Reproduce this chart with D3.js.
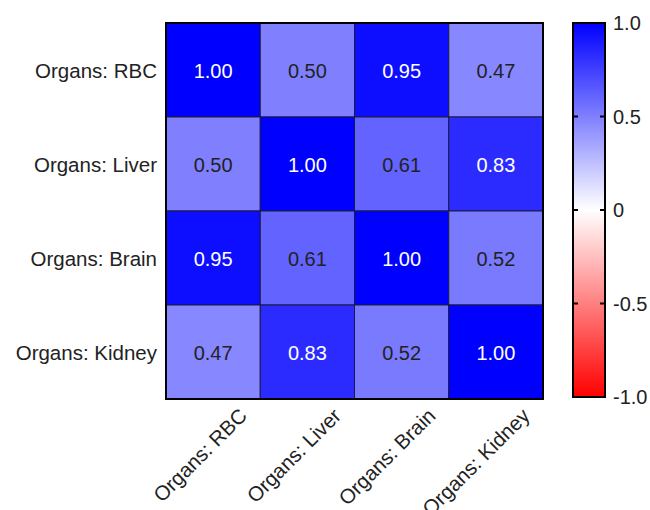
<!DOCTYPE html>
<html>
<head>
<meta charset="utf-8">
<script src="https://cdn.jsdelivr.net/npm/d3@7"></script>
<style>
  html, body { margin: 0; padding: 0; background: #fff; }
  svg { display: block; font-family: "Liberation Sans", Arial, sans-serif; }
</style>
</head>
<body>
<svg id="chart" width="650" height="510"></svg>
<script>
// Correlation matrix between organs
const organs = ["Organs: RBC", "Organs: Liver", "Organs: Brain", "Organs: Kidney"];
const rowRBC    = [1.00, 0.50, 0.95, 0.47];
const rowLiver  = [0.50, 1.00, 0.61, 0.83];
const rowBrain  = [0.95, 0.61, 1.00, 0.52];
const rowKidney = [0.47, 0.83, 0.52, 1.00];
const matrix = [rowRBC, rowLiver, rowBrain, rowKidney];
const legendTicks = [1.0, 0.5, 0, -0.5, -1.0];
const legendTickLabels = ["1.0", "0.5", "0", "-0.5", "-1.0"];

const svg = d3.select("#chart");

const plot = { left: 166, top: 23, right: 543, bottom: 399 };
const fontSize = 20;
const axisFontSize = 20.5;

const x = d3.scaleBand().domain(organs).range([plot.left, plot.right]);
const y = d3.scaleBand().domain(organs).range([plot.top, plot.bottom]);

const color = d3.scaleLinear()
  .domain([-1, 0, 1])
  .range(["#ff0000", "#ffffff", "#0000ff"]);

const cells = [];
matrix.forEach((row, i) => row.forEach((v, j) => cells.push({ r: organs[i], c: organs[j], v })));

// Heatmap cells
svg.append("g").selectAll("rect")
  .data(cells)
  .join("rect")
  .attr("x", d => x(d.c))
  .attr("y", d => y(d.r))
  .attr("width", x.bandwidth())
  .attr("height", y.bandwidth())
  .attr("fill", d => color(d.v))
  .attr("stroke", "#1a1a40")
  .attr("stroke-width", 1);

// Value labels
svg.append("g").selectAll("text")
  .data(cells)
  .join("text")
  .attr("x", d => x(d.c) + x.bandwidth() / 2)
  .attr("y", d => y(d.r) + y.bandwidth() / 2 + 1)
  .attr("dy", "0.35em")
  .attr("text-anchor", "middle")
  .attr("font-size", fontSize)
  .attr("fill", d => d.v >= 0.8 ? "#ffffff" : "#222222")
  .text(d => d.v.toFixed(2));

// Outer frame
svg.append("rect")
  .attr("x", plot.left).attr("y", plot.top)
  .attr("width", plot.right - plot.left)
  .attr("height", plot.bottom - plot.top)
  .attr("fill", "none")
  .attr("stroke", "#000")
  .attr("stroke-width", 2);

// Row labels
svg.append("g").selectAll("text")
  .data(organs)
  .join("text")
  .attr("x", plot.left - 9)
  .attr("y", d => y(d) + y.bandwidth() / 2 + 1)
  .attr("dy", "0.35em")
  .attr("text-anchor", "end")
  .attr("font-size", axisFontSize)
  .attr("fill", "#222")
  .text(d => d);

// Column labels, rotated
svg.append("g").selectAll("text")
  .data(organs)
  .join("text")
  .attr("transform", d => `translate(${x(d) + x.bandwidth() / 2 + 30},${plot.bottom + 13}) rotate(-45)`)
  .attr("dy", "0.35em")
  .attr("text-anchor", "end")
  .attr("font-size", axisFontSize)
  .attr("fill", "#222")
  .text(d => d);

// Colour legend
const legend = { left: 573, right: 605, top: 23, bottom: 397 };
const ly = d3.scaleLinear().domain([-1, 1]).range([legend.bottom, legend.top]);

const grad = svg.append("defs").append("linearGradient")
  .attr("id", "legendGrad")
  .attr("x1", 0).attr("y1", 1).attr("x2", 0).attr("y2", 0);
grad.selectAll("stop")
  .data([-1, 0, 1])
  .join("stop")
  .attr("offset", d => (d + 1) / 2)
  .attr("stop-color", d => color(d));

svg.append("rect")
  .attr("x", legend.left).attr("y", legend.top)
  .attr("width", legend.right - legend.left)
  .attr("height", legend.bottom - legend.top)
  .attr("fill", "url(#legendGrad)")
  .attr("stroke", "#000")
  .attr("stroke-width", 2);

const lt = svg.append("g").selectAll("g")
  .data(legendTicks)
  .join("g");
lt.filter(d => d > -1 && d < 1).append("line")
  .attr("x1", legend.left - 1).attr("x2", legend.left + 5)
  .attr("y1", d => ly(d)).attr("y2", d => ly(d))
  .attr("stroke", "#000").attr("stroke-width", 2);
lt.filter(d => d > -1 && d < 1).append("line")
  .attr("x1", legend.right - 5).attr("x2", legend.right + 1)
  .attr("y1", d => ly(d)).attr("y2", d => ly(d))
  .attr("stroke", "#000").attr("stroke-width", 2);
lt.append("text")
  .attr("x", legend.right + 8)
  .attr("y", d => ly(d))
  .attr("dy", "0.35em")
  .attr("font-size", fontSize)
  .attr("fill", "#222")
  .text((d, i) => legendTickLabels[i]);
</script>
</body>
</html>
